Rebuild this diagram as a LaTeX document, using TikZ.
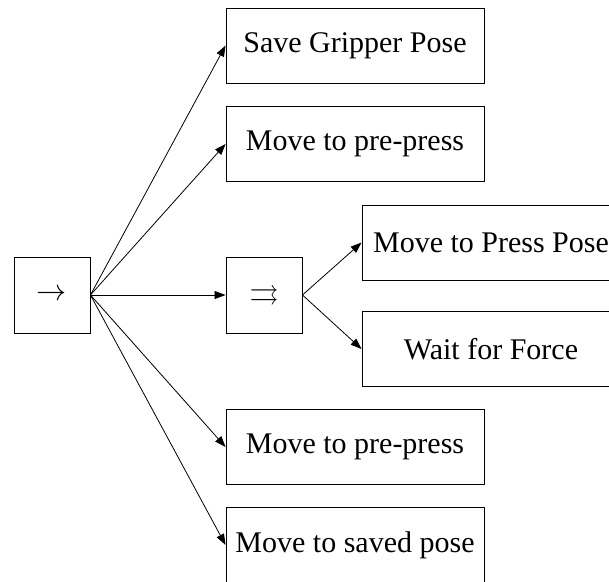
\documentclass[tikz,border=0pt]{standalone}
\usepackage{amssymb}
\usepackage{fontspec}
\setmainfont{Liberation Serif}
\usetikzlibrary{arrows.meta}
\begin{document}
\begin{tikzpicture}[x=1pt,y=-1pt,
  ctrl/.style={draw,line width=0.9pt,minimum width=76pt,minimum height=76pt,inner sep=0pt,font=\fontsize{20}{24}\selectfont},
  leaf/.style={draw,line width=0.9pt,minimum width=258pt,minimum height=75pt,inner sep=0pt,font=\fontsize{30}{34}\selectfont},
  link/.style={line width=0.8pt,-{Triangle[length=11pt,width=8pt]}}]
\useasboundingbox (0,0) rectangle (609,581);
% sequence root and parallel node
\node[ctrl] (seq) at (52,295) {\scalebox{1.45}{$\rightarrow$}};
\node[ctrl] (par) at (264,295) {\scalebox{1.45}{$\rightrightarrows$}};
% action leaves
\node[leaf] (save)  at (355,45.5) {Save Gripper Pose};
\node[leaf] (pre1)  at (355,144)  {Move to pre-press};
\node[leaf] (press) at (491,242.5) {Move to Press Pose};
\node[leaf] (wait)  at (491,349)  {Wait for Force};
\node[leaf] (pre2)  at (355,447)  {Move to pre-press};
\node[leaf] (saved) at (355,545)  {Move to saved pose};
% connectors
\foreach \t in {save,pre1,par,pre2,saved}
  \draw[link] (seq.east) -- (\t.west);
\foreach \t in {press,wait}
  \draw[link] (par.east) -- (\t.west);
\end{tikzpicture}
\end{document}
